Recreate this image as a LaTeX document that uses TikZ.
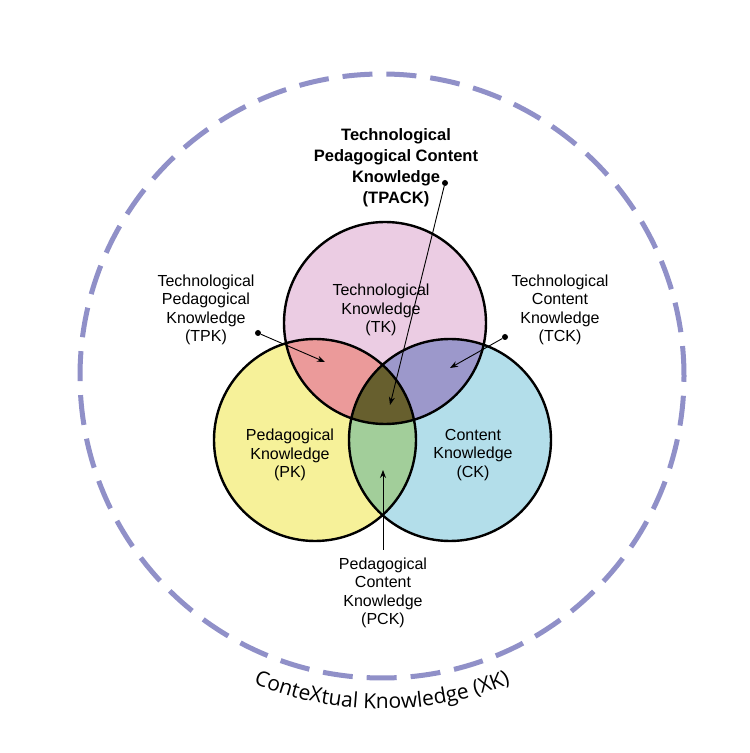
\documentclass[tikz,border=0pt]{standalone}
\usepackage{fontspec}
\setmainfont{Liberation Sans}
\newfontfamily\curvefont{Open Sans}
\usetikzlibrary{decorations.text,arrows.meta}
\definecolor{tkc}{HTML}{EBCCE3}
\definecolor{pkc}{HTML}{F6F199}
\definecolor{ckc}{HTML}{B3DEEA}
\definecolor{tpc}{HTML}{EB9A9A}
\definecolor{tcc}{HTML}{9C98CB}
\definecolor{pcc}{HTML}{A2CE9A}
\definecolor{allc}{HTML}{675F2E}
\definecolor{dashc}{HTML}{9090C8}
\begin{document}
\begin{tikzpicture}[x=1pt,y=1pt,
  lbl/.style={align=center,font=\fontsize{16}{18.5}\selectfont},
  ptr/.style={-{Stealth[length=8pt,width=6pt]},line width=0.9pt},
  dot/.style={circle,fill=black,inner sep=0pt,minimum size=6pt}]
\useasboundingbox (0,0) rectangle (750,753);
\fill[white] (0,0) rectangle (750,753);
\def\tk{(385,430) circle (101)}
\def\pk{(315,313) circle (101)}
\def\ck{(450,313) circle (101)}
\fill[tkc] \tk; \fill[pkc] \pk; \fill[ckc] \ck;
\begin{scope}\clip \tk; \fill[tpc] \pk; \fill[tcc] \ck; \end{scope}
\begin{scope}\clip \pk; \fill[pcc] \ck; \end{scope}
\begin{scope}\clip \tk; \clip \pk; \fill[allc] \ck; \end{scope}
\draw[line width=2.4pt] \tk \pk \ck;
\draw[dashc,line width=5pt,dash pattern=on 30pt off 14pt] (382,377) circle (302);
\path[decorate,decoration={text along path,text align=center,
  text={|\curvefont\fontsize{21}{23}\selectfont|ConteXtual Knowledge (XK)}}]
  (382,377) ++(230:333) arc[start angle=230,end angle=310,radius=333];
\node[lbl] (tkl) at (381,443) {Technological\\Knowledge\\(TK)};
\node[lbl] (pkl) at (290,298) {Pedagogical\\Knowledge\\(PK)};
\node[lbl] (ckl) at (473,298) {Content\\Knowledge\\(CK)};
\node[lbl,font=\bfseries\fontsize{16.5}{21}\selectfont] (tpack) at (396,585) {Technological\\Pedagogical Content\\Knowledge\\(TPACK)};
\node[lbl] (tpk) at (206,443) {Technological\\Pedagogical\\Knowledge\\(TPK)};
\node[lbl] (tck) at (560,443) {Technological\\Content\\Knowledge\\(TCK)};
\node[lbl] (pck) at (383,160) {Pedagogical\\Content\\Knowledge\\(PCK)};
\node[dot] (d1) at (445,570) {}; \coordinate (t1) at (390,348);
\node[dot] (d2) at (258,420) {}; \coordinate (t2) at (325,391);
\node[dot] (d3) at (505,416) {}; \coordinate (t3) at (450,385);
\coordinate (d4) at (383,203); \coordinate (t4) at (383,283);
\draw[ptr] (d1) -- (t1);
\draw[ptr] (d2) -- (t2);
\draw[ptr] (d3) -- (t3);
\draw[ptr] (d4) -- (t4);
\end{tikzpicture}
\end{document}
